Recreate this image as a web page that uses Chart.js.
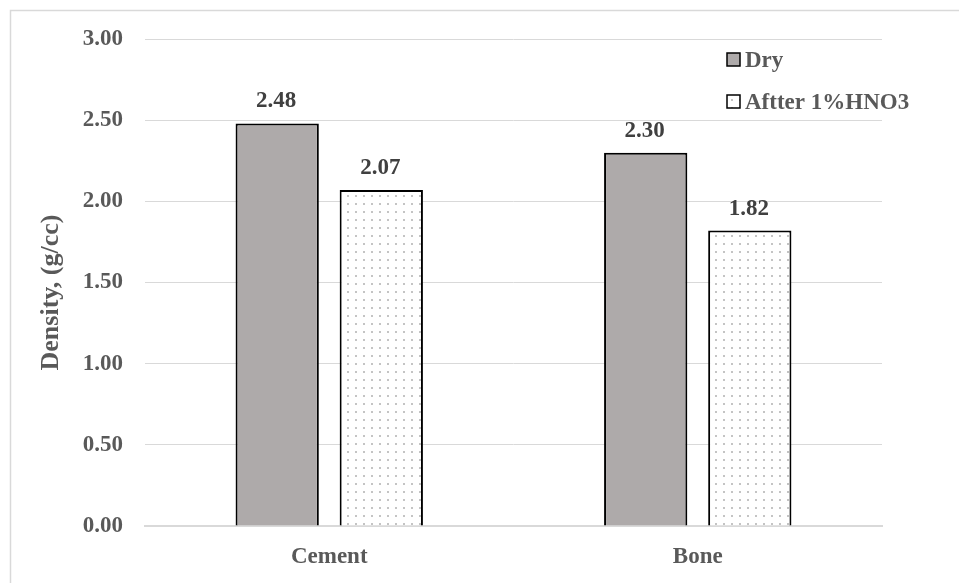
<!DOCTYPE html>
<html>
<head>
<meta charset="utf-8">
<script src="https://cdn.jsdelivr.net/npm/chart.js@4/dist/chart.umd.min.js"></script>
<style>
  html, body { margin: 0; padding: 0; background: #fff; }
  #wrap { width: 959px; height: 583px; position: relative; }
</style>
</head>
<body>
<div id="wrap"><canvas id="chart-area" width="959" height="583"></canvas></div>
<script>
  var categories = ["Cement", "Bone"];
  var dryValues = [2.48, 2.30];
  var acidValues = [2.07, 1.82];
  var seriesNames = ["Dry", "Aftter 1%HNO3"];
  var yTicks = [0, 0.5, 1, 1.5, 2, 2.5, 3];
  var yTitle = "Density, (g/cc)";

  var FONT = "'Liberation Serif', 'Times New Roman', serif";

  // dotted fill like the excel pattern
  function dotPattern() {
    var c = document.createElement("canvas");
    c.width = 8; c.height = 8;
    var g = c.getContext("2d");
    g.fillStyle = "#ffffff";
    g.fillRect(0, 0, 8, 8);
    g.fillStyle = "#c4c4c4";
    g.fillRect(3, 3, 2, 2);
    return g.createPattern(c, "repeat");
  }

  var ctx = document.getElementById("chart-area").getContext("2d");
  var dots = dotPattern();

  var frame = {
    id: "frame",
    beforeDraw: function(chart) {
      var c = chart.ctx;
      c.save();
      c.strokeStyle = "#d9d9d9";
      c.lineWidth = 1.5;
      c.strokeRect(10.5, 10.5, 1200, 1200);
      c.restore();
    }
  };

  // y title, sits a bit below the plot middle like the original
  var sideTitle = {
    id: "sideTitle",
    afterDraw: function(chart) {
      var c = chart.ctx;
      var a = chart.chartArea;
      c.save();
      c.translate(51, (a.top + a.bottom) / 2 + 10);
      c.rotate(-Math.PI / 2);
      c.font = "bold 26px " + FONT;
      c.fillStyle = "#595959";
      c.textAlign = "center";
      c.textBaseline = "middle";
      c.fillText(yTitle, 0, 0);
      c.restore();
    }
  };

  var valueLabels = {
    id: "valueLabels",
    afterDatasetsDraw: function(chart) {
      var c = chart.ctx;
      c.save();
      c.font = "bold 23px " + FONT;
      c.fillStyle = "#404040";
      c.textAlign = "center";
      c.textBaseline = "alphabetic";
      chart.data.datasets.forEach(function(ds, i) {
        chart.getDatasetMeta(i).data.forEach(function(bar, j) {
          c.fillText(ds.data[j].toFixed(2), bar.x - 1, bar.y - 16);
        });
      });
      c.restore();
    }
  };

  var boxLegend = {
    id: "boxLegend",
    afterDraw: function(chart) {
      var c = chart.ctx;
      var a = chart.chartArea;
      var x = a.right - 155, y = a.top + 14;
      c.save();
      c.font = "bold 23px " + FONT;
      c.textBaseline = "alphabetic";
      c.textAlign = "left";
      chart.data.datasets.forEach(function(ds, i) {
        var by = y + i * 42;
        c.fillStyle = ds.backgroundColor;
        c.fillRect(x, by, 13, 13);
        c.strokeStyle = "#000";
        c.lineWidth = 1.5;
        c.strokeRect(x, by, 13, 13);
        c.fillStyle = "#595959";
        c.fillText(ds.label, x + 18, by + 14);
      });
      c.restore();
    }
  };

  var chart = new Chart(ctx, {
    type: "bar",
    data: {
      labels: categories,
      datasets: [
        {
          label: seriesNames[0],
          data: dryValues,
          backgroundColor: "#aeaaaa",
          borderColor: "#000000",
          borderWidth: 2,
          categoryPercentage: 0.565,
          barPercentage: 0.8
        },
        {
          label: seriesNames[1],
          data: acidValues,
          backgroundColor: dots,
          borderColor: "#000000",
          borderWidth: 2,
          categoryPercentage: 0.565,
          barPercentage: 0.8
        }
      ]
    },
    options: {
      responsive: false,
      animation: false,
      layout: { padding: { left: 0, right: 77, top: 39, bottom: 0 } },
      plugins: {
        legend: { display: false },
        tooltip: { enabled: false }
      },
      scales: {
        x: {
          grid: { display: false },
          border: { color: "#d9d9d9", width: 2 },
          ticks: {
            color: "#595959",
            font: { family: FONT, size: 23, weight: "bold" },
            padding: 9
          },
          afterFit: function(s) { s.height = 57; }
        },
        y: {
          min: 0,
          max: 3,
          afterBuildTicks: function(s) {
            s.ticks = yTicks.map(function(v) { return { value: v }; });
          },
          grid: { color: "#d9d9d9", lineWidth: 1, drawTicks: false },
          border: { display: false },
          ticks: {
            color: "#595959",
            font: { family: FONT, size: 23, weight: "bold" },
            padding: 22,
            callback: function(v) { return Number(v).toFixed(2); }
          },
          afterFit: function(s) { s.width = 145; }
        }
      }
    },
    plugins: [frame, sideTitle, valueLabels, boxLegend]
  });
</script>
</body>
</html>
